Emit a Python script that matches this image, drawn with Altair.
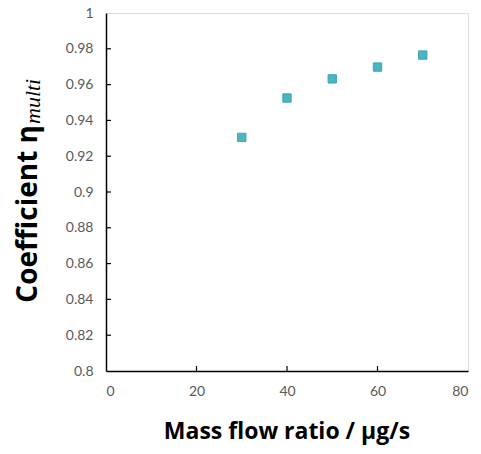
import altair as alt
import pandas as pd

mass_flow = [30, 40, 50, 60, 70]
coefficient = [0.9305, 0.9525, 0.9632, 0.9698, 0.9765]
x_ticks = [0, 20, 40, 60, 80]
y_ticks = [0.8, 0.82, 0.84, 0.86, 0.88, 0.9, 0.92, 0.94, 0.96, 0.98, 1.0]

W, H = 362, 358

df = pd.DataFrame({"x": mass_flow, "y": coefficient})
xt = pd.DataFrame({"x": x_ticks[1:-1]})
yt = pd.DataFrame({"y": y_ticks[1:-1]})

xscale = alt.Scale(domain=[0, 80], nice=False)
yscale = alt.Scale(domain=[0.8, 1.0], nice=False, zero=False)

xaxis = alt.Axis(
    values=x_ticks, title=None, ticks=False, labelPadding=13, labelOverlap=False,
    labelFont="Lato", labelFontSize=14, labelColor="#595959",
    domainColor="black", domainWidth=1.5, grid=False)
yaxis = alt.Axis(
    values=y_ticks, title=None, ticks=False, labelPadding=13, format=".2~f",
    labelOverlap=False, labelFont="Lato", labelFontSize=14, labelColor="#595959",
    domainColor="black", domainWidth=1.5, grid=False)

points = alt.Chart(df).mark_point(
    shape="square", filled=True, size=70, color="#4DB4C1", opacity=1,
    stroke="#3FA6B3", strokeWidth=1
).encode(
    x=alt.X("x:Q", scale=xscale, axis=xaxis),
    y=alt.Y("y:Q", scale=yscale, axis=yaxis),
)

xticks = alt.Chart(xt).mark_rule(color="black", strokeWidth=1.2).encode(
    x=alt.X("x:Q", scale=xscale, axis=xaxis), y=alt.value(H), y2=alt.value(H - 5))
yticks = alt.Chart(yt).mark_rule(color="black", strokeWidth=1.2).encode(
    y=alt.Y("y:Q", scale=yscale, axis=yaxis), x=alt.value(0), x2=alt.value(5))

xtitle = alt.Chart(pd.DataFrame({"t": ["Mass flow ratio / μg/s"]})).mark_text(
    font="Open Sans", fontSize=23, fontWeight="bold", color="black",
    align="center", baseline="alphabetic"
).encode(text="t:N", x=alt.value(W / 2), y=alt.value(426))

ytitle = alt.Chart(pd.DataFrame({"t": ["Coefficient η"]})).mark_text(
    font="Open Sans", fontSize=28, fontWeight="bold", color="black",
    align="right", baseline="alphabetic", angle=270
).encode(text="t:N", x=alt.value(-69), y=alt.value(112))

ysub = alt.Chart(pd.DataFrame({"t": ["multi"]})).mark_text(
    font="Liberation Serif", fontSize=22, fontStyle="italic", color="black",
    align="left", baseline="alphabetic", angle=270
).encode(text="t:N", x=alt.value(-66), y=alt.value(111))

chart = alt.layer(points, xticks, yticks, xtitle, ytitle, ysub).properties(
    width=W, height=H,
    autosize=alt.AutoSizeParams(type="none"),
    padding={"left": 98, "top": 5, "right": 5, "bottom": 75},
).configure_view(stroke="black", strokeWidth=1.5).configure(background="white")

chart.save("out.html", embed_options={"renderer": "svg", "actions": False})
